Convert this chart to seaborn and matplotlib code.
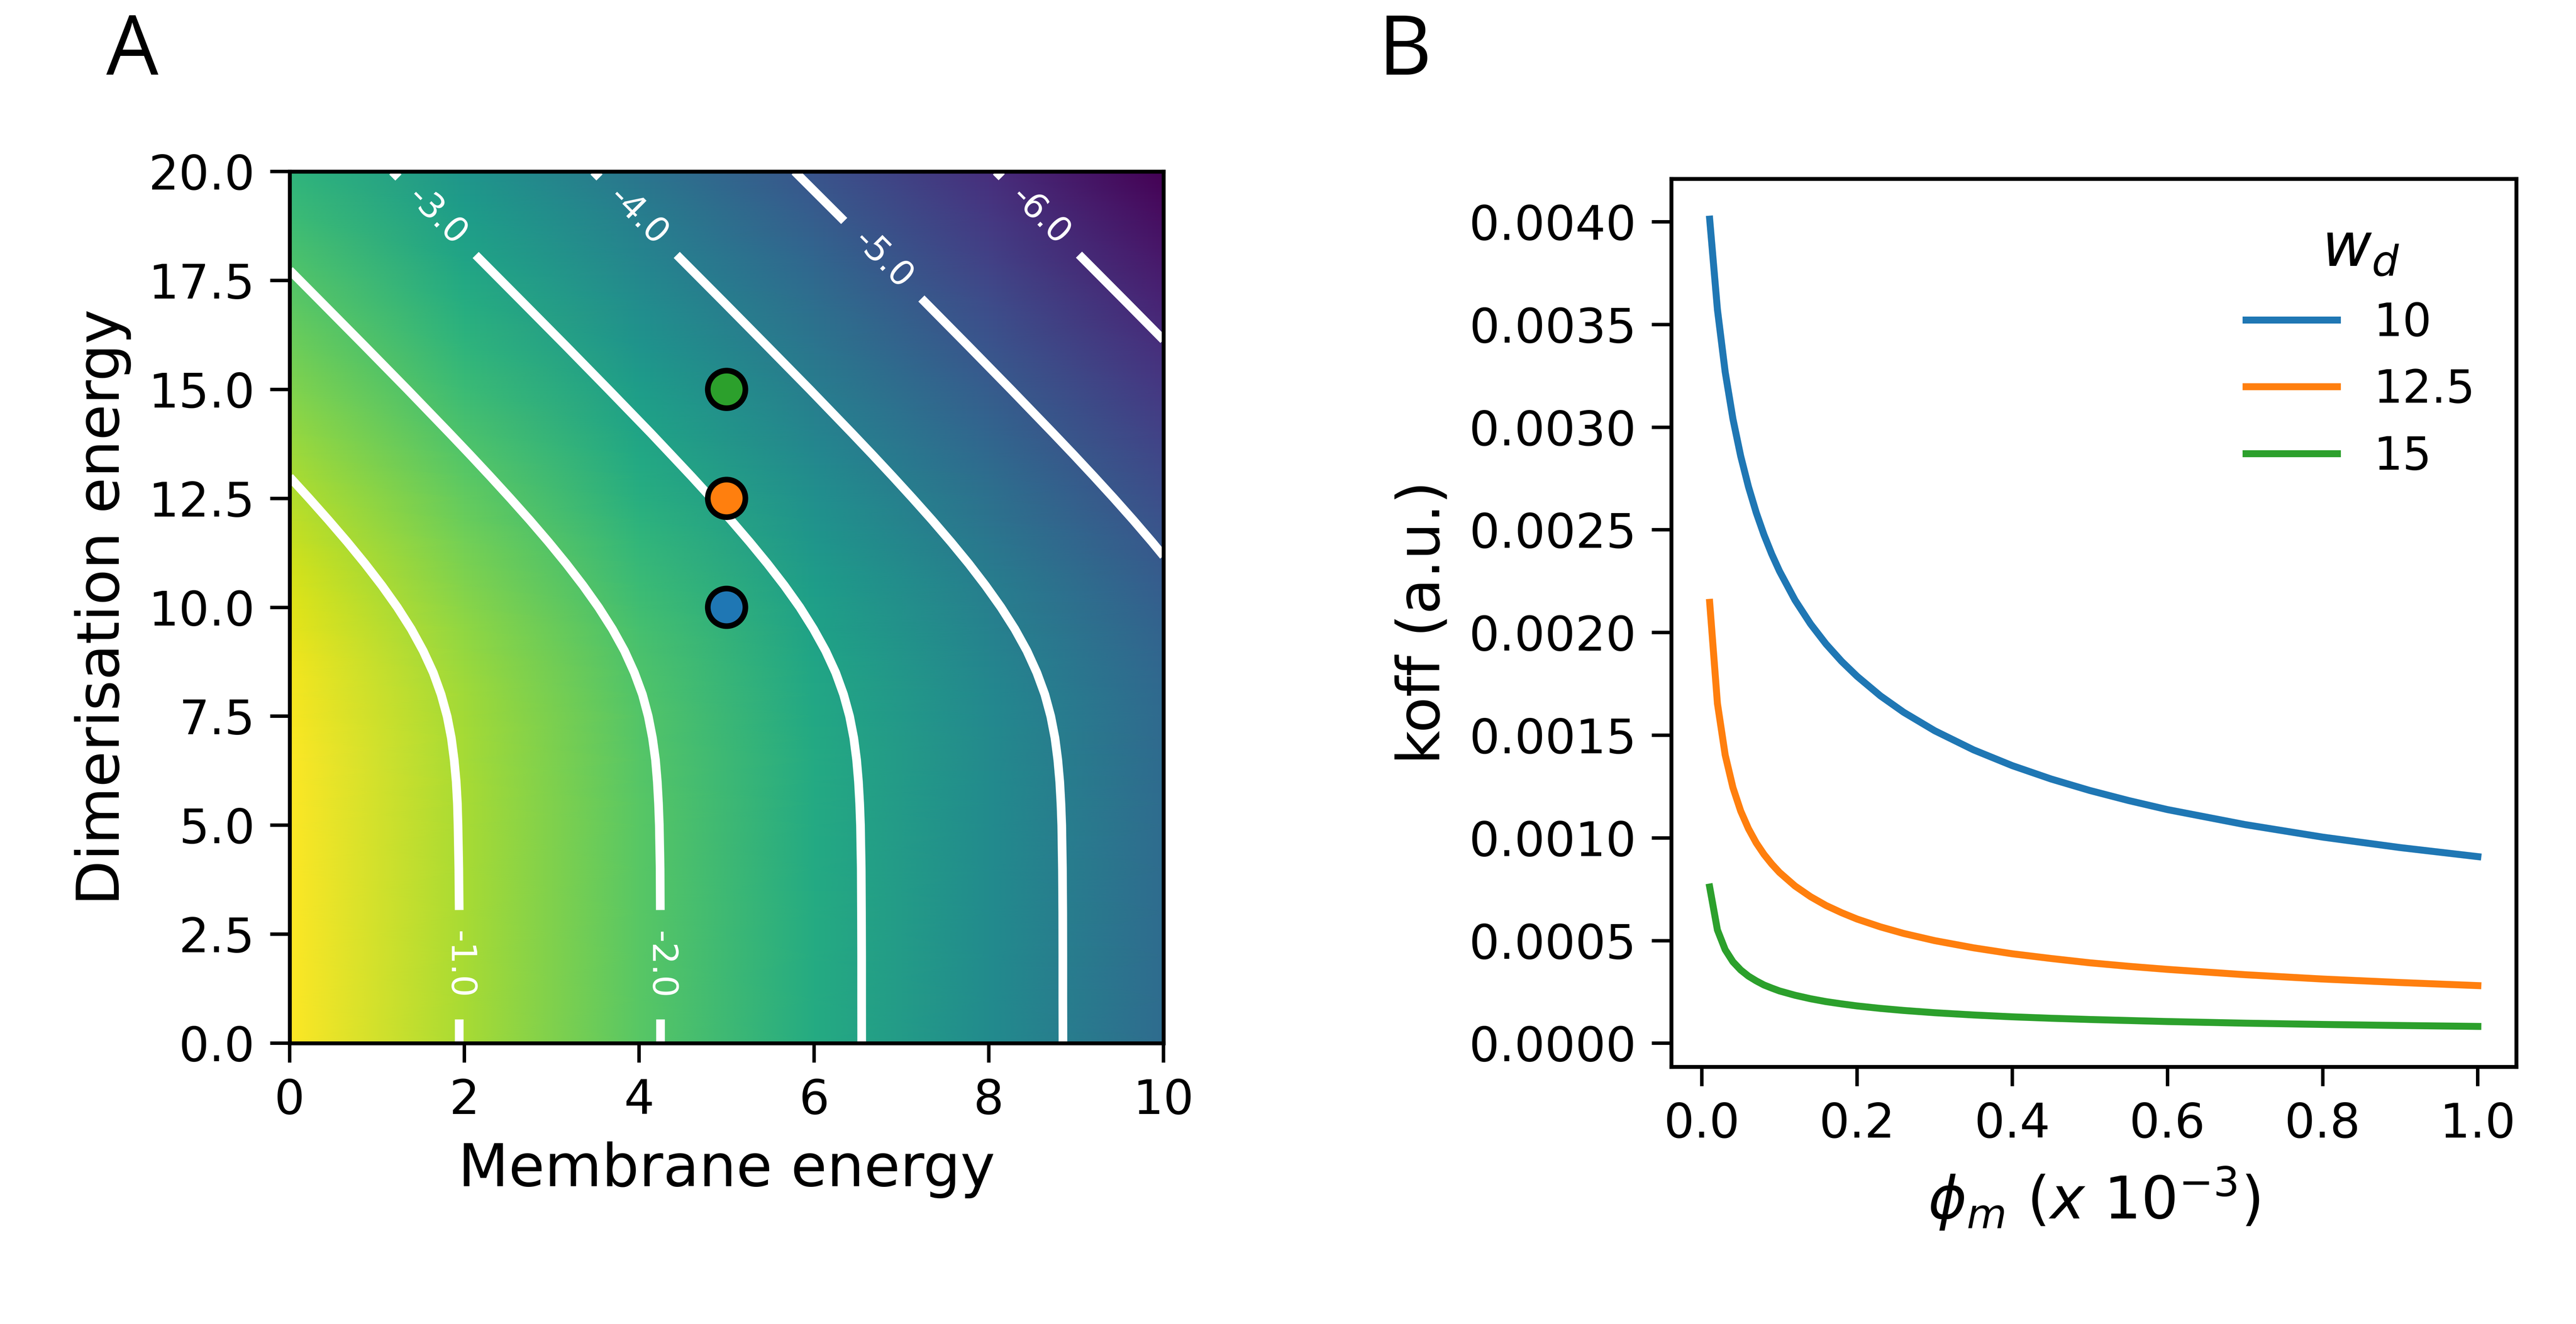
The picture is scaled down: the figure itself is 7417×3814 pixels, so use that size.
import numpy as np
import pandas as pd
import matplotlib
matplotlib.use("Agg")
import matplotlib.pyplot as plt
import seaborn as sns

# ===============================
# DATA - panel A (log10 koff)
# ===============================
MEMBRANE_E = [0, 2, 4, 6, 8, 10]
DIMER_E = [0, 1, 2, 3, 4, 5, 5.5, 6, 6.5, 7, 7.5, 8, 8.5, 9, 9.5, 10,
           10.5, 11, 11.5, 12, 12.5, 13, 13.5, 14, 15, 16, 17, 18, 19, 20]
LOG_KOFF = [
    [-0.157, -1.026, -1.894, -2.763, -3.631, -4.500],  # wd = 0
    [-0.157, -1.026, -1.894, -2.763, -3.632, -4.500],
    [-0.157, -1.026, -1.895, -2.763, -3.632, -4.500],
    [-0.158, -1.026, -1.895, -2.764, -3.632, -4.501],
    [-0.159, -1.028, -1.896, -2.765, -3.634, -4.502],
    [-0.163, -1.032, -1.900, -2.769, -3.637, -4.506],  # 5
    [-0.167, -1.035, -1.904, -2.773, -3.641, -4.510],
    [-0.173, -1.041, -1.910, -2.779, -3.647, -4.516],
    [-0.182, -1.051, -1.919, -2.788, -3.657, -4.525],
    [-0.197, -1.065, -1.934, -2.802, -3.671, -4.539],  # 7
    [-0.218, -1.086, -1.955, -2.823, -3.692, -4.560],
    [-0.247, -1.116, -1.984, -2.853, -3.721, -4.590],
    [-0.286, -1.155, -2.024, -2.892, -3.761, -4.629],
    [-0.336, -1.205, -2.073, -2.942, -3.810, -4.679],  # 9
    [-0.396, -1.264, -2.133, -3.002, -3.870, -4.739],
    [-0.465, -1.333, -2.202, -3.070, -3.939, -4.808],  # 10
    [-0.542, -1.410, -2.279, -3.147, -4.016, -4.884],
    [-0.625, -1.494, -2.362, -3.231, -4.099, -4.968],
    [-0.714, -1.582, -2.451, -3.320, -4.188, -5.057],
    [-0.807, -1.675, -2.544, -3.413, -4.281, -5.150],  # 12
    [-0.903, -1.772, -2.640, -3.509, -4.378, -5.246],
    [-1.002, -1.871, -2.739, -3.608, -4.477, -5.345],
    [-1.103, -1.972, -2.841, -3.709, -4.578, -5.446],
    [-1.206, -2.075, -2.943, -3.812, -4.681, -5.549],  # 14
    [-1.415, -2.284, -3.153, -4.021, -4.890, -5.758],
    [-1.628, -2.496, -3.365, -4.234, -5.102, -5.971],
    [-1.842, -2.711, -3.579, -4.448, -5.316, -6.185],
    [-2.057, -2.926, -3.795, -4.663, -5.532, -6.400],
    [-2.273, -3.142, -4.011, -4.879, -5.748, -6.616],
    [-2.490, -3.358, -4.227, -5.096, -5.964, -6.833],  # 20
]
LEVELS = [-6, -5, -4, -3, -2, -1]
LABEL_POS = [(1.95, 1.8), (4.25, 1.8), (1.7, 19.0), (4.0, 19.0), (6.8, 18.0), (8.6, 19.0)]
DOT_X = [5, 5, 5]
DOT_Y = [10, 12.5, 15]

# ===============================
# DATA - panel B (koff vs phi_m)
# ===============================
PHI = [0.01, 0.02, 0.03, 0.04, 0.05, 0.06, 0.07, 0.08, 0.09, 0.10,
       0.12, 0.14, 0.16, 0.18, 0.20, 0.23, 0.26, 0.30, 0.35, 0.40,
       0.45, 0.50, 0.55, 0.60, 0.70, 0.80, 0.90, 1.00]
KOFF_10 = [0.004013, 0.003573, 0.003269, 0.003040, 0.002859, 0.002710, 0.002584, 0.002476, 0.002382, 0.002299,
           0.002158, 0.002042, 0.001944, 0.001860, 0.001787, 0.001692, 0.001612, 0.001522, 0.001429, 0.001352,
           0.001287, 0.001231, 0.001182, 0.001138, 0.001065, 0.001004, 0.000953, 0.000909]
KOFF_12_5 = [0.002147, 0.001655, 0.001404, 0.001245, 0.001131, 0.001045, 0.000976, 0.000920, 0.000873, 0.000832,
             0.000766, 0.000714, 0.000671, 0.000636, 0.000605, 0.000567, 0.000535, 0.000500, 0.000465, 0.000436,
             0.000413, 0.000392, 0.000375, 0.000360, 0.000334, 0.000313, 0.000296, 0.000281]
KOFF_15 = [0.000761, 0.000552, 0.000456, 0.000397, 0.000357, 0.000327, 0.000304, 0.000284, 0.000269, 0.000255,
           0.000234, 0.000217, 0.000203, 0.000192, 0.000182, 0.000170, 0.000160, 0.000149, 0.000138, 0.000129,
           0.000122, 0.000116, 0.000111, 0.000106, 0.0000981, 0.0000919, 0.0000867, 0.0000823]
WD_LABELS = ["10", "12.5", "15"]
COLORS = ["#1f77b4", "#ff7f0e", "#2ca02c"]

# ===============================
# STYLE
# ===============================
DPI = 900
plt.rcParams.update({
    "xtick.labelsize": 11,
    "ytick.labelsize": 11,
    "axes.labelsize": 13.5,
    "xtick.major.size": 4.5,
    "ytick.major.size": 4.5,
    "axes.linewidth": 0.9,
})

fig = plt.figure(figsize=(7417 / DPI, 3814 / DPI), dpi=DPI)
axA = fig.add_axes([0.11245, 0.21211, 0.33922, 0.65836])
axB = fig.add_axes([0.64878, 0.19428, 0.32803, 0.67069])

# ===============================
# PANEL A
# ===============================
Z = np.array(LOG_KOFF)
axA.pcolormesh(MEMBRANE_E, DIMER_E, Z, shading="gouraud", cmap="viridis")
cs = axA.contour(MEMBRANE_E, DIMER_E, Z, levels=LEVELS, colors="white",
                 linewidths=2.0, linestyles="solid")
axA.clabel(cs, fmt="%.1f", fontsize=8, inline=True, inline_spacing=60, manual=LABEL_POS)
sns.scatterplot(x=DOT_X, y=DOT_Y, hue=WD_LABELS, palette=COLORS, s=75,
                edgecolor="black", linewidth=1.3, legend=False, zorder=3, ax=axA)
axA.set_xlim(0, 10)
axA.set_ylim(0, 20)
axA.set_xlabel("Membrane energy")
axA.set_ylabel("Dimerisation energy")

# ===============================
# PANEL B
# ===============================
df = pd.DataFrame({
    "phi": PHI * 3,
    "koff": KOFF_10 + KOFF_12_5 + KOFF_15,
    "wd": [w for w in WD_LABELS for _ in PHI],
})
sns.lineplot(data=df, x="phi", y="koff", hue="wd", hue_order=WD_LABELS,
             palette=COLORS, linewidth=1.6, errorbar=None, ax=axB)
axB.set_xticks([0.0, 0.2, 0.4, 0.6, 0.8, 1.0])
axB.set_xlabel(r"$\phi_m\ (x\ 10^{-3})$")
axB.set_ylabel("koff (a.u.)")
axB.legend(title=r"$w_d$", frameon=False, fontsize=10.5, title_fontsize=14, loc="upper right")

# panel letters
fig.text(0.0413, 0.9436, "A", fontsize=19, family=["Open Sans", "DejaVu Sans"], va="baseline")
fig.text(0.5351, 0.9436, "B", fontsize=19, family=["Open Sans", "DejaVu Sans"], va="baseline")

fig.savefig("out.png", dpi=DPI)
plt.close(fig)
